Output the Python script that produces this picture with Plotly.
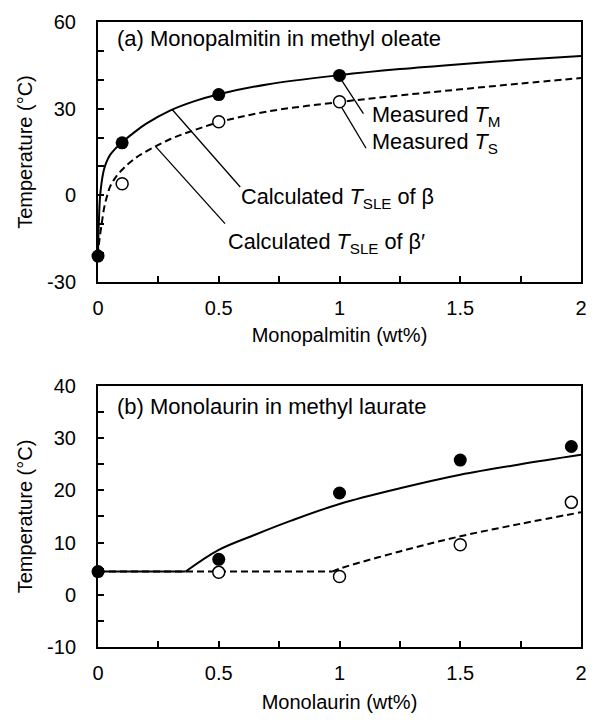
import plotly.graph_objects as go

# ---------------- Panel (a): Monopalmitin in methyl oleate ----------------
a_TM_x = [0, 0.1, 0.5, 1.0]
a_TM = [-21, 18.2, 34.9, 41.5]
a_TS_x = [0.1, 0.5, 1.0]
a_TS = [4.0, 25.5, 32.4]
a_beta_x = [0, 0.002, 0.005, 0.008, 0.015, 0.025, 0.035, 0.05, 0.07, 0.1, 0.15, 0.2,
            0.3, 0.4, 0.5, 0.7, 1.0, 1.25, 1.5, 1.75, 2.0]
a_beta_y = [-21, -13, -6, -1, 4.5, 9.0, 11.5, 14.0, 16.0, 18.4, 21.8, 24.8,
            29.4, 32.6, 35.0, 38.4, 41.6, 43.7, 45.4, 46.9, 48.2]
a_betap_x = [0, 0.005, 0.015, 0.025, 0.035, 0.05, 0.07, 0.104, 0.15, 0.2, 0.3, 0.4,
             0.5, 0.7, 1.0, 1.25, 1.5, 1.75, 2.0]
a_betap_y = [-21, -16, -10, -4.5, -1, 3.0, 5.9, 9.2, 12.6, 15.2, 19.5, 22.6,
             25.3, 29.0, 32.3, 34.6, 36.7, 38.7, 40.6]

# ---------------- Panel (b): Monolaurin in methyl laurate ----------------
b_TM_x = [0, 0.5, 1.0, 1.5, 1.96]
b_TM = [4.45, 6.8, 19.5, 25.8, 28.4]
b_TS_x = [0.5, 1.0, 1.5, 1.96]
b_TS = [4.3, 3.5, 9.6, 17.7]
b_beta_x = [0, 0.363, 0.5, 0.65, 0.8, 1.0, 1.25, 1.5, 1.75, 2.0]
b_beta_y = [4.45, 4.45, 8.6, 11.5, 14.2, 17.4, 20.4, 23.0, 25.0, 26.8]
b_betap_x = [0, 0.97, 1.0, 1.25, 1.5, 1.75, 2.0]
b_betap_y = [4.45, 4.45, 5.0, 8.3, 11.2, 13.6, 15.8]
b_beta_kink = 1    # index where the flat part ends
b_betap_kink = 1

x_ticks = [0, 0.5, 1, 1.5, 2]
x_ticktext = ["0", "0.5", "1", "1.5", "2"]
a_yticks = [-30, 0, 30, 60]
a_yticktext = ["-30", "0", "30", "60"]
b_yticks = [-10, 0, 10, 20, 30, 40]
b_yticktext = ["-10", "0", "10", "20", "30", "40"]

FONT = "Liberation Sans, Arial, sans-serif"

fig = go.Figure()

solid = dict(color="black", width=2)
dashed = dict(color="black", width=2, dash="7px,4px")

# panel (a) traces
fig.add_trace(go.Scatter(x=a_beta_x, y=a_beta_y, mode="lines",
                         line=dict(**solid, shape="spline", smoothing=1.0),
                         xaxis="x", yaxis="y", hoverinfo="skip"))
fig.add_trace(go.Scatter(x=a_betap_x, y=a_betap_y, mode="lines",
                         line=dict(**dashed, shape="spline", smoothing=1.0),
                         xaxis="x", yaxis="y", hoverinfo="skip"))
fig.add_trace(go.Scatter(x=a_TS_x, y=a_TS, mode="markers", cliponaxis=False,
                         marker=dict(size=12, color="white", line=dict(color="black", width=1.5)),
                         xaxis="x", yaxis="y"))
fig.add_trace(go.Scatter(x=a_TM_x, y=a_TM, mode="markers", cliponaxis=False,
                         marker=dict(size=13, color="black"), xaxis="x", yaxis="y"))

# panel (b) traces: flat part (linear) + rising branch (smooth)
k = b_beta_kink
fig.add_trace(go.Scatter(x=b_beta_x[:k + 1], y=b_beta_y[:k + 1], mode="lines", line=solid,
                         xaxis="x2", yaxis="y2", hoverinfo="skip"))
fig.add_trace(go.Scatter(x=b_beta_x[k:], y=b_beta_y[k:], mode="lines",
                         line=dict(**solid, shape="spline", smoothing=1.0),
                         xaxis="x2", yaxis="y2", hoverinfo="skip"))
k = b_betap_kink
fig.add_trace(go.Scatter(x=b_betap_x[:k + 1], y=b_betap_y[:k + 1], mode="lines", line=dashed,
                         xaxis="x2", yaxis="y2", hoverinfo="skip"))
fig.add_trace(go.Scatter(x=b_betap_x[k:], y=b_betap_y[k:], mode="lines",
                         line=dict(**dashed, shape="spline", smoothing=1.0),
                         xaxis="x2", yaxis="y2", hoverinfo="skip"))
fig.add_trace(go.Scatter(x=b_TS_x, y=b_TS, mode="markers", cliponaxis=False,
                         marker=dict(size=12, color="white", line=dict(color="black", width=1.5)),
                         xaxis="x2", yaxis="y2"))
fig.add_trace(go.Scatter(x=b_TM_x, y=b_TM, mode="markers", cliponaxis=False,
                         marker=dict(size=13, color="black"), xaxis="x2", yaxis="y2"))

axis_common = dict(showline=True, linecolor="black", linewidth=2, mirror=True,
                   ticks="inside", ticklen=6, tickwidth=1.5, tickcolor="black",
                   showgrid=False, zeroline=False,
                   tickfont=dict(family=FONT, size=20, color="black"))
title_font = dict(family=FONT, size=20, color="black")

fig.update_layout(
    width=598, height=723,
    margin=dict(l=98, r=11, t=15, b=76),
    paper_bgcolor="white", plot_bgcolor="white",
    showlegend=False,
    font=dict(family=FONT, size=20, color="black"),
    xaxis=dict(**axis_common, domain=[0, 1], range=[0, 2], anchor="y",
               tickvals=x_ticks, ticktext=x_ticktext,
               minor=dict(ticks="inside", dtick=0.25, ticklen=6, tickwidth=1.5, tickcolor="black"),
               ticklabelstandoff=7,
               title=dict(text="Monopalmitin (wt%)", standoff=10, font=title_font)),
    yaxis=dict(**axis_common, domain=[0.5839, 1], range=[-30, 60], anchor="x",
               tickvals=a_yticks, ticktext=a_yticktext,
               minor=dict(ticks="inside", dtick=10, ticklen=6, tickwidth=1.5, tickcolor="black"),
               ticklabelstandoff=16,
               title=dict(text="Temperature (°C)", standoff=9, font=title_font)),
    xaxis2=dict(**axis_common, domain=[0, 1], range=[0, 2], anchor="y2",
                tickvals=x_ticks, ticktext=x_ticktext,
                minor=dict(ticks="inside", dtick=0.25, ticklen=6, tickwidth=1.5, tickcolor="black"),
                ticklabelstandoff=7,
                title=dict(text="Monolaurin (wt%)", standoff=12, font=title_font)),
    yaxis2=dict(**axis_common, domain=[0, 0.4177], range=[-10, 40], anchor="x2",
                tickvals=b_yticks, ticktext=b_yticktext,
                minor=dict(ticks="inside", dtick=5, ticklen=6, tickwidth=1.5, tickcolor="black"),
                ticklabelstandoff=16,
                title=dict(text="Temperature (°C)", standoff=9, font=title_font)),
)

# leader lines (panel a)
leaders = [
    (0.307, 29.7, 0.589, 2.9),
    (0.24, 16.8, 0.526, -9.8),
    (1.003, 40.6, 1.099, 28.3),
    (1.01, 30.3, 1.11, 16.3),
]
for x0, y0, x1, y1 in leaders:
    fig.add_shape(type="line", x0=x0, y0=y0, x1=x1, y1=y1, xref="x", yref="y",
                  line=dict(color="black", width=1.3))

labels = [
    ("x", "y", 0.07, 54.3, "(a) Monopalmitin in methyl oleate", 22),
    ("x", "y", 0.585, -1.0, "Calculated <i>T</i><sub>SLE</sub> of β", 21.7),
    ("x", "y", 0.53, -16.6, "Calculated <i>T</i><sub>SLE</sub> of β′", 21.7),
    ("x", "y", 1.126, 27.4, "Measured <i>T</i><sub>M</sub>", 21.7),
    ("x", "y", 1.126, 18.0, "Measured <i>T</i><sub>S</sub>", 21.7),
    ("x2", "y2", 0.07, 36.0, "(b) Monolaurin in methyl laurate", 22),
]
for xr, yr, x, y, t, fs in labels:
    fig.add_annotation(x=x, y=y, xref=xr, yref=yr, text=t, showarrow=False,
                       xanchor="left", yanchor="middle",
                       font=dict(family=FONT, size=fs, color="black"))

fig.write_html("out.html")
